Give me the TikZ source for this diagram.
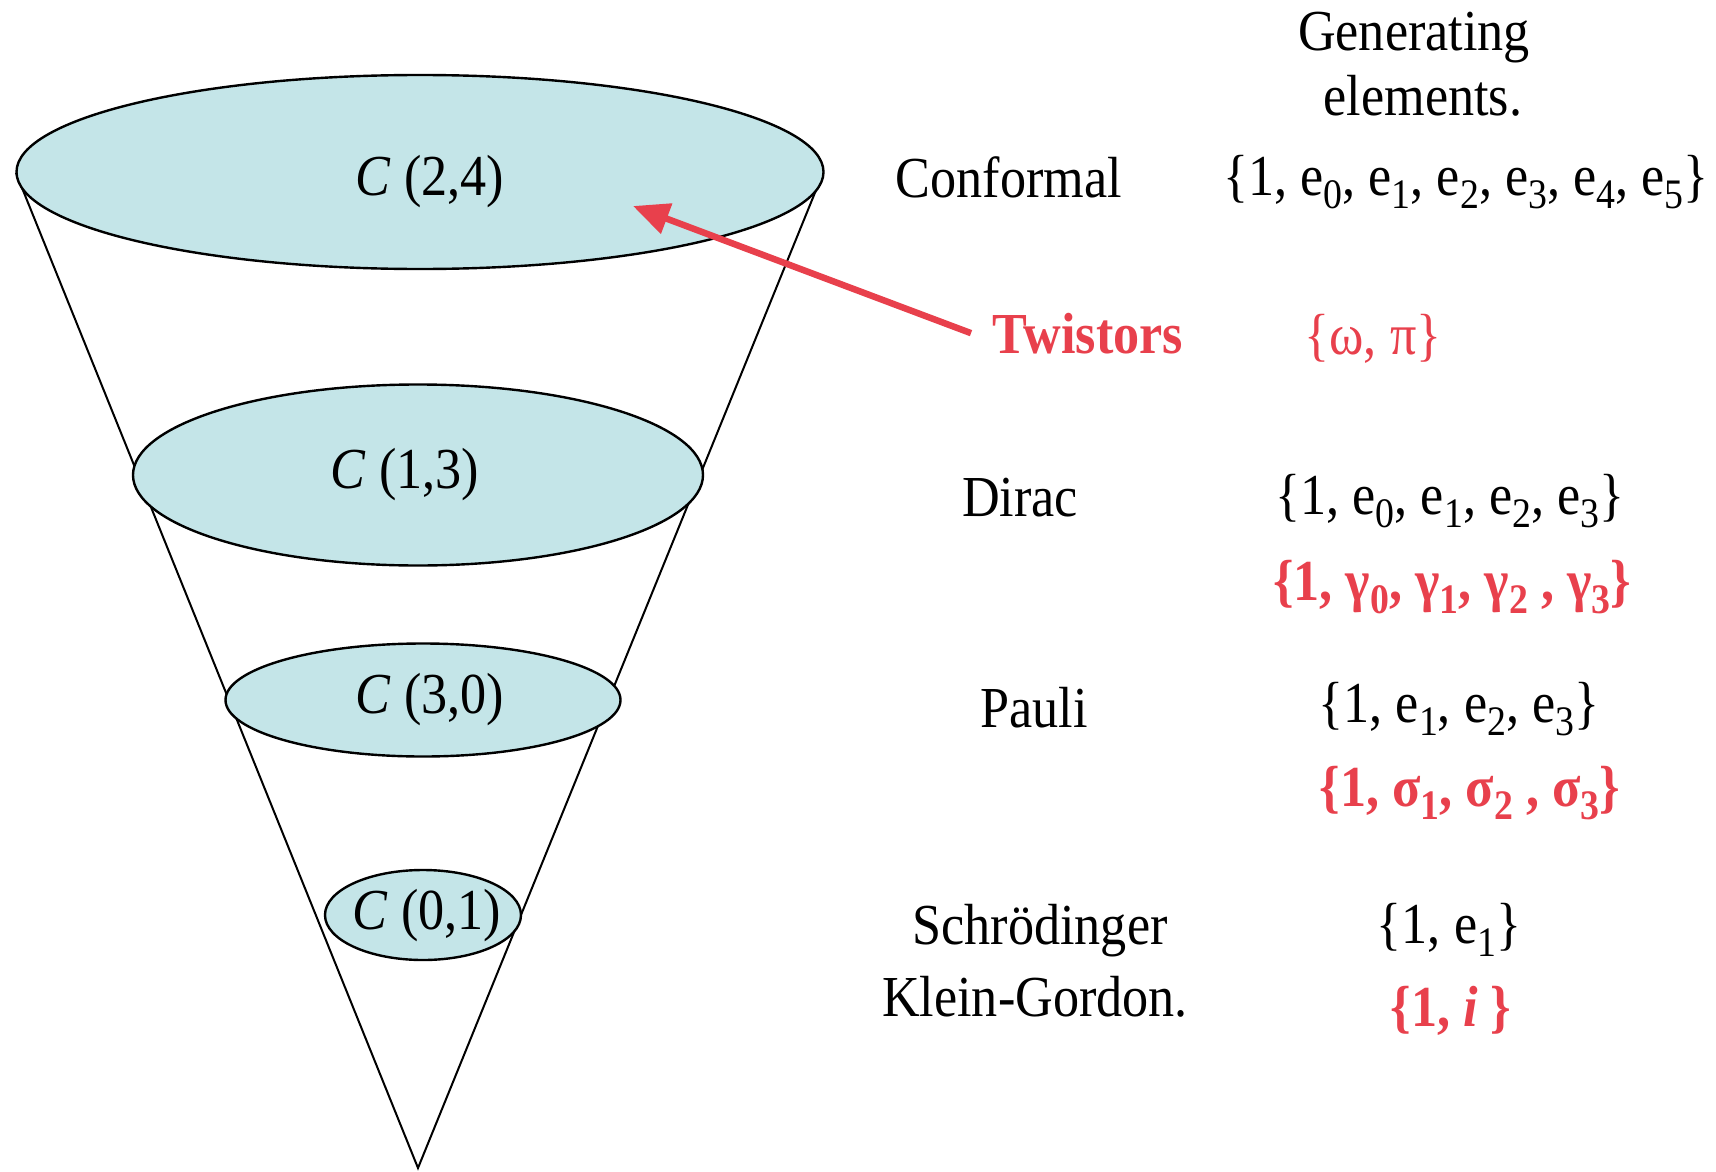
\documentclass[tikz,border=0pt]{standalone}
\usepackage{fontspec}
\setmainfont{Liberation Serif}
\usetikzlibrary{arrows.meta,shapes.geometric}
\definecolor{tred}{RGB}{232,64,76}
\definecolor{diskfill}{RGB}{196,229,232}
\newcommand\subx[1]{\raisebox{-0.24em}{\fontsize{42}{42}\selectfont #1}}
\begin{document}
\begin{tikzpicture}[x=1pt,y=-1pt,
  txt/.style={font=\fontsize{58}{66}\selectfont, inner sep=0pt, anchor=base, xscale=0.9},
  rtxt/.style={txt, text=tred, font=\fontsize{58}{66}\selectfont\bfseries},
  rlight/.style={txt, text=tred},
  disk/.style={ellipse, draw=black, line width=2.4pt, fill=diskfill, inner sep=0pt},
  cone/.style={draw=black, line width=2pt},
  arr/.style={draw=tred, line width=6.5pt, -{Triangle[length=36pt,width=31pt]}}]
\useasboundingbox (0,0) rectangle (1716,1172);
% cone
\coordinate (tl) at (16,173);
\coordinate (tr) at (823,173);
\coordinate (apex) at (418,1168);
\draw[cone] (tl) -- (apex) -- (tr);
% disks
\node[disk, minimum width=807, minimum height=194] (d24) at (420,172) {};
\node[disk, minimum width=570, minimum height=181] (d13) at (418,475) {};
\node[disk, minimum width=395, minimum height=113] (d30) at (423,700) {};
\node[disk, minimum width=196, minimum height=90] (d01) at (423,915) {};
% disk labels
\node[txt] (l24) at (430,195) {\textit{C} (2,4)};
\node[txt] (l13) at (405,488) {\textit{C} (1,3)};
\node[txt] (l30) at (430,713) {\textit{C} (3,0)};
\node[txt] (l01) at (427,929) {\textit{C} (0,1)};
% right column
\node[txt] (gen1) at (1414,51) {Generating};
\node[txt] (gen2) at (1423,115) {elements.};
\node[txt] (conf) at (1009,197) {Conformal};
\node[txt] (confset) at (1466,195) {\{1, e\subx0, e\subx1, e\subx2, e\subx3, e\subx4, e\subx5\}};
\node[rtxt, inner xsep=24pt] (tw) at (1088,353) {Twistors};
\node[rlight] (twset) at (1373,354) {\{ω, π\}};
\node[txt] (dirac) at (1020,516) {Dirac};
\node[txt] (diracset) at (1450,514) {\{1, e\subx0, e\subx1, e\subx2, e\subx3\}};
\node[rtxt] (gamma) at (1452,600) {\{1, γ\subx0, γ\subx1, γ\subx2 , γ\subx3\}};
\node[txt] (pauli) at (1034,727) {Pauli};
\node[txt] (pauliset) at (1459,722) {\{1, e\subx1, e\subx2, e\subx3\}};
\node[rtxt] (sigma) at (1470,806) {\{1, σ\subx1, σ\subx2 , σ\subx3\}};
\node[txt] (schr) at (1040,944) {Schrödinger};
\node[txt] (kg) at (1035,1016) {Klein-Gordon.};
\node[txt] (schrset) at (1449,943) {\{1, e\subx1\}};
\node[rtxt] (cplx) at (1451,1026) {\{1, \textit{i} \}};
% arrow
\coordinate (tip) at (633,206);
\draw[arr] (tw.west) -- (tip);
\end{tikzpicture}
\end{document}
